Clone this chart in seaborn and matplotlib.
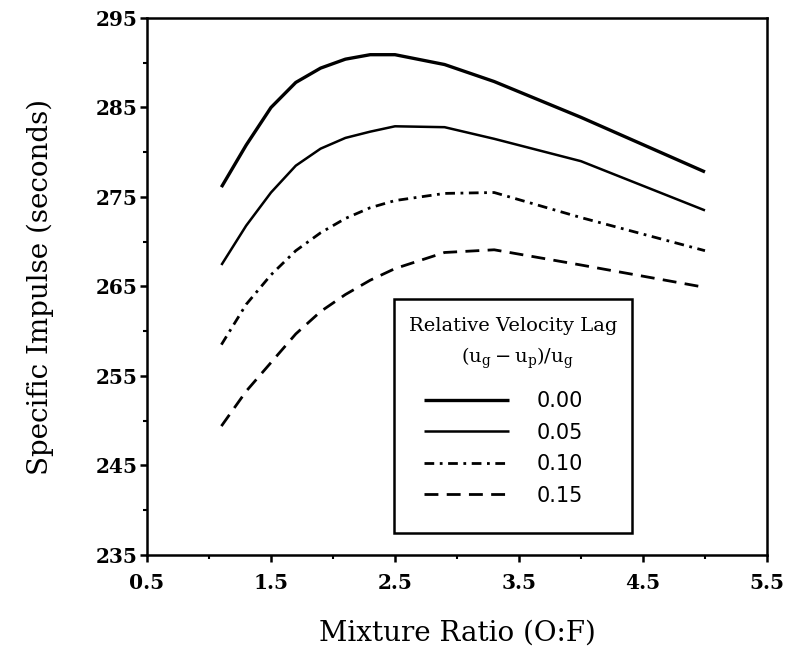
import numpy as np
import pandas as pd
import matplotlib.pyplot as plt
from matplotlib.patches import Rectangle
from matplotlib.ticker import MultipleLocator
import seaborn as sns

# mixture ratio (O:F) and specific impulse (s) for each relative velocity lag
mixture_ratio = [1.1, 1.3, 1.5, 1.7, 1.9, 2.1, 2.3, 2.5, 2.9, 3.3, 4.0, 5.0]
isp_000 = [276.1, 280.8, 285.0, 287.8, 289.4, 290.4, 290.9, 290.9, 289.8, 287.9, 283.9, 277.8]
isp_005 = [267.4, 271.8, 275.5, 278.5, 280.4, 281.6, 282.3, 282.9, 282.8, 281.5, 279.0, 273.5]
isp_010 = [258.5, 263.0, 266.3, 269.0, 271.0, 272.6, 273.8, 274.6, 275.4, 275.5, 272.7, 269.0]
isp_015 = [249.4, 253.3, 256.5, 259.7, 262.2, 264.1, 265.7, 267.0, 268.8, 269.1, 267.4, 264.9]
lag_labels = ['0.00', '0.05', '0.10', '0.15']

sns.set_style('ticks')
plt.rcParams['font.family'] = ['DejaVu Serif']
plt.rcParams['mathtext.fontset'] = 'dejavuserif'
for key in ['text.color', 'axes.labelcolor', 'xtick.color', 'ytick.color', 'axes.edgecolor']:
    plt.rcParams[key] = 'black'

series = {'0.00': isp_000, '0.05': isp_005, '0.10': isp_010, '0.15': isp_015}
df = pd.concat([pd.DataFrame({'ratio': mixture_ratio, 'isp': v, 'lag': k}) for k, v in series.items()])

styles = {'0.00': dict(lw=2.4, ls='-'),
          '0.05': dict(lw=1.8, ls='-'),
          '0.10': dict(lw=2.0, ls=(0, (3.5, 2, 1, 2))),
          '0.15': dict(lw=2.0, ls=(0, (5, 3)))}

fig = plt.figure(figsize=(7.89, 6.57), dpi=100)
ax = fig.add_axes([0.1863, 0.1553, 0.7858, 0.8173])

for lag in lag_labels:
    sns.lineplot(data=df[df['lag'] == lag], x='ratio', y='isp', color='black',
                 errorbar=None, label=lag, ax=ax, solid_capstyle='butt', **styles[lag])

ax.set(xlim=(0.5, 5.5), ylim=(235, 295))
ax.xaxis.set_minor_locator(MultipleLocator(0.5))
ax.yaxis.set_minor_locator(MultipleLocator(5))
ax.set_xticks(np.arange(0.5, 5.6, 1.0))
ax.set_yticks(np.arange(235, 296, 10))
ax.tick_params(which='major', direction='out', length=5, width=1.8, labelsize=14.5)
ax.tick_params(which='minor', direction='out', length=3, width=1.5)
ax.tick_params(axis='x', which='both', pad=8)
ax.tick_params(axis='y', which='both', pad=2)
for lbl in ax.get_xticklabels() + ax.get_yticklabels():
    lbl.set_fontweight('bold')
for sp in ax.spines.values():
    sp.set_linewidth(1.8)

ax.set_xlabel('Mixture Ratio (O:F)', fontsize=20, labelpad=19)
ax.set_ylabel('Specific Impulse (seconds)', fontsize=20, labelpad=30)

# legend: boxed panel with a two-line heading, entries underneath
ax.add_patch(Rectangle((0.398, 0.041), 0.384, 0.436, transform=ax.transAxes,
                       fill=False, edgecolor='black', lw=1.8, zorder=5))
ax.text(0.59, 0.426, 'Relative Velocity Lag', transform=ax.transAxes,
        ha='center', va='center', fontsize=14)
ax.text(0.597, 0.367, r'$(\mathrm{u}_{\mathrm{g}} - \mathrm{u}_{\mathrm{p}})/\mathrm{u}_{\mathrm{g}}$',
        transform=ax.transAxes, ha='center', va='center', fontsize=14)
leg = ax.legend(loc='upper left', bbox_to_anchor=(0.4468, 0.305),
                prop={'family': 'DejaVu Sans', 'size': 15}, frameon=False,
                handlelength=4.1, handletextpad=1.3, labelspacing=0.55,
                borderpad=0, borderaxespad=0)

fig.savefig('out.png', dpi=100)
